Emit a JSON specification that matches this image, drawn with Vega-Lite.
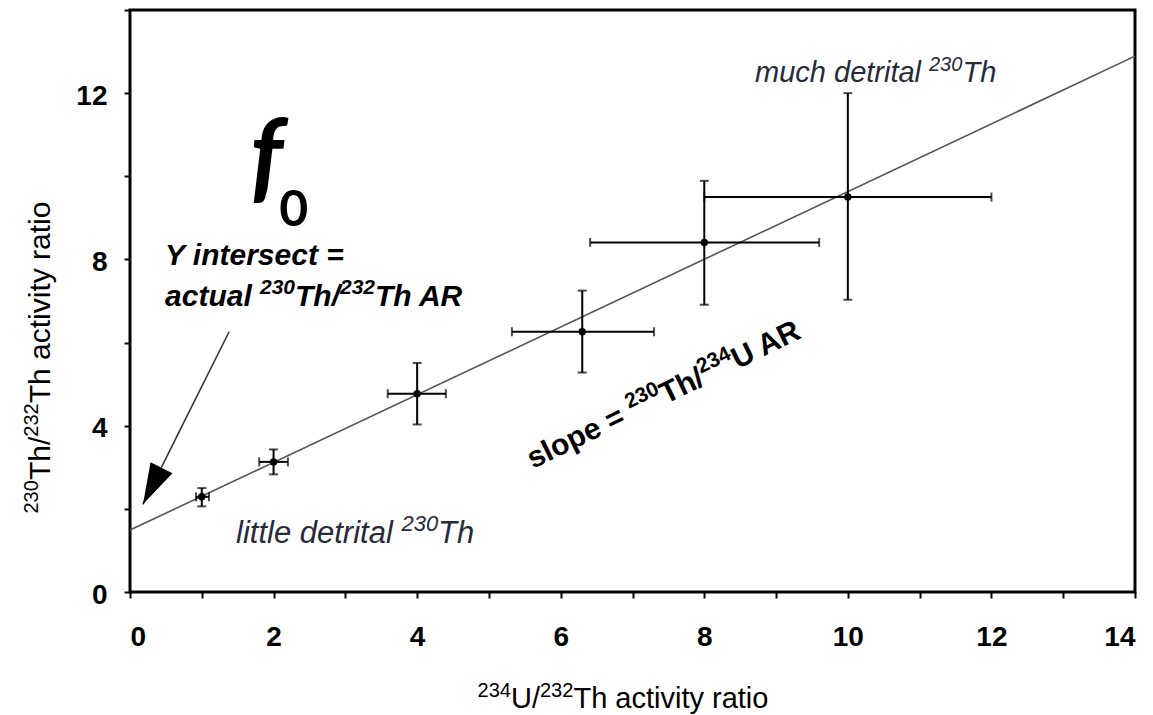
{
  "$schema": "https://vega.github.io/schema/vega-lite/v6.json",
  "autosize": {"type": "none"},
  "padding": {"left": 130, "top": 10, "right": 18, "bottom": 123},
  "width": 1005,
  "height": 582,
  "background": "white",
  "config": {
    "font": "Liberation Sans",
    "view": {"stroke": "black", "strokeWidth": 3},
    "axis": {"grid": false, "domain": false, "tickColor": "black", "tickWidth": 2, "tickSize": 6, "labelColor": "black", "labelFont": "Liberation Sans", "labelFontWeight": "bold", "labelFontSize": 28}
  },
  "datasets": {
    "pts": [
      {"x": 1, "y": 2.29, "xlo": 0.92, "xhi": 1.1, "ylo": 2.06, "yhi": 2.5},
      {"x": 2, "y": 3.13, "xlo": 1.8, "xhi": 2.2, "ylo": 2.83, "yhi": 3.43},
      {"x": 4, "y": 4.77, "xlo": 3.59, "xhi": 4.4, "ylo": 4.03, "yhi": 5.51},
      {"x": 6.3, "y": 6.26, "xlo": 5.32, "xhi": 7.3, "ylo": 5.28, "yhi": 7.25},
      {"x": 8, "y": 8.41, "xlo": 6.41, "xhi": 9.6, "ylo": 6.91, "yhi": 9.89},
      {"x": 10, "y": 9.5, "xlo": 8, "xhi": 12, "ylo": 7.03, "yhi": 12}
    ],
    "fit": [{"x": 0, "y": 1.49}, {"x": 14, "y": 12.89}],
    "arrow": [{"x": 1.38, "y": 6.26, "x2": 0.18, "y2": 2.11}]
  },
  "encoding": {
    "x": {"type": "quantitative", "scale": {"domain": [0, 14], "nice": false, "zero": false},
      "axis": {"values": [0,1,2,3,4,5,6,7,8,9,10,11,12,13,14], "labelExpr": "datum.value % 2 == 0 ? datum.label : ''", "labelPadding": 25, "title": null}},
    "y": {"type": "quantitative", "scale": {"domain": [0, 14], "nice": false, "zero": false},
      "axis": {"values": [0,2,4,6,8,10,12,14], "labelExpr": "datum.value % 4 == 0 && datum.value < 14 ? datum.label : ''", "labelPadding": 17, "labelOffset": 3, "title": null}}
  },
  "layer": [
    {"data": {"name": "fit"}, "mark": {"type": "line", "color": "#555555", "strokeWidth": 1.6}, "encoding": {"x": {"field": "x"}, "y": {"field": "y"}}},
    {"data": {"name": "pts"}, "mark": {"type": "rule", "color": "black", "strokeWidth": 2}, "encoding": {"x": {"field": "x"}, "y": {"field": "ylo"}, "y2": {"field": "yhi"}}},
    {"data": {"name": "pts"}, "mark": {"type": "rule", "color": "black", "strokeWidth": 2}, "encoding": {"y": {"field": "y"}, "x": {"field": "xlo"}, "x2": {"field": "xhi"}}},
    {"data": {"name": "pts"}, "mark": {"type": "tick", "orient": "horizontal", "color": "black", "size": 9, "thickness": 2}, "encoding": {"x": {"field": "x"}, "y": {"field": "ylo"}}},
    {"data": {"name": "pts"}, "mark": {"type": "tick", "orient": "horizontal", "color": "black", "size": 9, "thickness": 2}, "encoding": {"x": {"field": "x"}, "y": {"field": "yhi"}}},
    {"data": {"name": "pts"}, "mark": {"type": "tick", "orient": "vertical", "color": "black", "size": 9, "thickness": 2}, "encoding": {"x": {"field": "xlo"}, "y": {"field": "y"}}},
    {"data": {"name": "pts"}, "mark": {"type": "tick", "orient": "vertical", "color": "black", "size": 9, "thickness": 2}, "encoding": {"x": {"field": "xhi"}, "y": {"field": "y"}}},
    {"data": {"name": "pts"}, "mark": {"type": "point", "filled": true, "color": "black", "opacity": 1, "size": 55}, "encoding": {"x": {"field": "x"}, "y": {"field": "y"}}},
    {"data": {"name": "arrow"}, "mark": {"type": "rule", "color": "#333333", "strokeWidth": 1.6}, "encoding": {"x": {"field": "x"}, "y": {"field": "y"}, "x2": {"field": "x2"}, "y2": {"field": "y2"}}},
    {"data": {"name": "arrow"}, "mark": {"type": "point", "filled": true, "color": "black", "opacity": 1, "size": 1681, "shape": "M0,0 L-0.6,-2 L0.6,-2 Z", "angle": 27}, "encoding": {"x": {"field": "x2"}, "y": {"field": "y2"}}},
    {"data": {"values": [{"x": 1.67, "y": 9.65, "t": "f"}]}, "mark": {"type": "text", "font": "Lato", "fontWeight": "bold", "fontStyle": "italic", "fontSize": 100, "align": "left", "baseline": "alphabetic", "color": "black"}, "encoding": {"x": {"field": "x"}, "y": {"field": "y"}, "text": {"field": "t"}}},
    {"data": {"values": [{"x": 2.08, "y": 8.81, "t": "0"}]}, "mark": {"type": "text", "font": "Lato", "fontWeight": "bold", "fontSize": 50, "align": "left", "baseline": "alphabetic", "color": "black"}, "encoding": {"x": {"field": "x"}, "y": {"field": "y"}, "text": {"field": "t"}}},

    {"data": {"values": [{"x": 5.307, "y": -2.79, "t": "U/"}, {"x": 6.177, "y": -2.79, "t": "Th activity ratio"}]}, "mark": {"type": "text", "fontSize": 29, "align": "left", "baseline": "alphabetic", "color": "black"}, "encoding": {"x": {"field": "x"}, "y": {"field": "y"}, "text": {"field": "t"}}},
    {"data": {"values": [{"x": 4.842, "y": -2.526, "t": "234"}, {"x": 5.711, "y": -2.526, "t": "232"}]}, "mark": {"type": "text", "fontSize": 20, "align": "left", "baseline": "alphabetic", "color": "black"}, "encoding": {"x": {"field": "x"}, "y": {"field": "y"}, "text": {"field": "t"}}},

    {"data": {"values": [{"x": -1.114, "y": 2.692, "t": "Th/"}, {"x": -1.114, "y": 4.539, "t": "Th activity ratio"}]}, "mark": {"type": "text", "fontSize": 30, "angle": -90, "align": "left", "baseline": "alphabetic", "color": "black"}, "encoding": {"x": {"field": "x"}, "y": {"field": "y"}, "text": {"field": "t"}}},
    {"data": {"values": [{"x": -1.282, "y": 1.888, "t": "230"}, {"x": -1.282, "y": 3.736, "t": "232"}]}, "mark": {"type": "text", "fontSize": 20, "angle": -90, "align": "left", "baseline": "alphabetic", "color": "black"}, "encoding": {"x": {"field": "x"}, "y": {"field": "y"}, "text": {"field": "t"}}},

    {"data": {"values": [{"x": 0.488, "y": 7.866, "t": "Y intersect ="}, {"x": 0.488, "y": 6.88, "t": "actual"}, {"x": 2.299, "y": 6.88, "t": "Th/"}, {"x": 3.413, "y": 6.88, "t": "Th AR"}]}, "mark": {"type": "text", "fontWeight": "bold", "fontStyle": "italic", "fontSize": 30, "align": "left", "baseline": "alphabetic", "color": "black"}, "encoding": {"x": {"field": "x"}, "y": {"field": "y"}, "text": {"field": "t"}}},
    {"data": {"values": [{"x": 1.811, "y": 7.168, "t": "230"}, {"x": 2.925, "y": 7.168, "t": "232"}]}, "mark": {"type": "text", "fontWeight": "bold", "fontStyle": "italic", "fontSize": 21, "align": "left", "baseline": "alphabetic", "color": "black"}, "encoding": {"x": {"field": "x"}, "y": {"field": "y"}, "text": {"field": "t"}}},

    {"data": {"values": [{"x": 5.614, "y": 2.959, "t": "slope ="}, {"x": 7.462, "y": 4.515, "t": "Th/"}, {"x": 8.464, "y": 5.36, "t": "U AR"}]}, "mark": {"type": "text", "fontWeight": "bold", "fontSize": 30, "angle": -26, "align": "left", "baseline": "alphabetic", "color": "black"}, "encoding": {"x": {"field": "x"}, "y": {"field": "y"}, "text": {"field": "t"}}},
    {"data": {"values": [{"x": 6.95, "y": 4.407, "t": "230"}, {"x": 7.951, "y": 5.249, "t": "234"}]}, "mark": {"type": "text", "fontWeight": "bold", "fontSize": 21, "angle": -26, "align": "left", "baseline": "alphabetic", "color": "black"}, "encoding": {"x": {"field": "x"}, "y": {"field": "y"}, "text": {"field": "t"}}},

    {"data": {"values": [{"x": 8.707, "y": 12.268, "t": "much detrital"}, {"x": 11.596, "y": 12.268, "t": "Th"}]}, "mark": {"type": "text", "fontStyle": "italic", "fontSize": 29, "align": "left", "baseline": "alphabetic", "color": "#262a3a"}, "encoding": {"x": {"field": "x"}, "y": {"field": "y"}, "text": {"field": "t"}}},
    {"data": {"values": [{"x": 11.13, "y": 12.533, "t": "230"}]}, "mark": {"type": "text", "fontStyle": "italic", "fontSize": 20, "align": "left", "baseline": "alphabetic", "color": "#262a3a"}, "encoding": {"x": {"field": "x"}, "y": {"field": "y"}, "text": {"field": "t"}}},

    {"data": {"values": [{"x": 1.477, "y": 1.179, "t": "little detrital"}, {"x": 4.292, "y": 1.179, "t": "Th"}]}, "mark": {"type": "text", "fontStyle": "italic", "fontSize": 31, "align": "left", "baseline": "alphabetic", "color": "#262a3a"}, "encoding": {"x": {"field": "x"}, "y": {"field": "y"}, "text": {"field": "t"}}},
    {"data": {"values": [{"x": 3.781, "y": 1.467, "t": "230"}]}, "mark": {"type": "text", "fontStyle": "italic", "fontSize": 22, "align": "left", "baseline": "alphabetic", "color": "#262a3a"}, "encoding": {"x": {"field": "x"}, "y": {"field": "y"}, "text": {"field": "t"}}}
  ]
}
